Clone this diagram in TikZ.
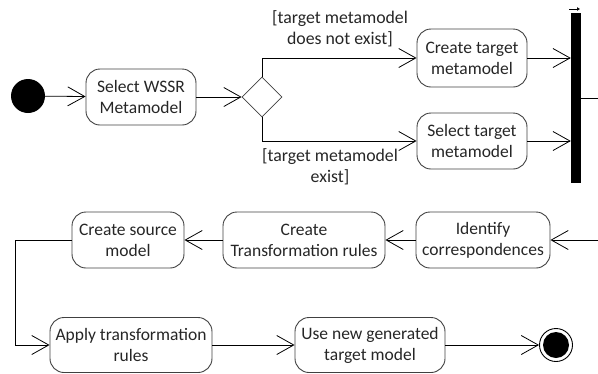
\documentclass[tikz,border=0pt]{standalone}
\usepackage{fontspec}
\setmainfont{Carlito}
\usetikzlibrary{arrows.meta,shapes.geometric}
\begin{document}
\begin{tikzpicture}[x=1pt,y=-1pt,
  act/.style={draw=black!75,line width=0.9pt,rounded corners=14pt,inner sep=0pt,align=center,
    text=black!85,font=\fontsize{17.5}{21}\selectfont},
  flow/.style={line width=0.8pt,-{Straight Barb[length=17pt,width=19pt,line width=0.8pt]}},
  lbl/.style={align=center,text=black!85,font=\fontsize{17.8}{21}\selectfont,inner sep=0pt},
]
\useasboundingbox (0,0) rectangle (598,373);
% nodes
\node[circle,fill=black,minimum size=34pt,inner sep=0pt] (start) at (28,96) {};
\node[act,minimum width=110pt,minimum height=56pt] (wssr) at (141,97) {Select WSSR\\Metamodel};
\node[draw=black!75,line width=0.8pt,diamond,minimum width=40pt,minimum height=40pt,inner sep=0pt] (dec) at (262,97) {};
\node[act,minimum width=110pt,minimum height=58pt] (ctm) at (472,58) {Create target\\metamodel};
\node[act,minimum width=110pt,minimum height=56pt] (stm) at (472,141) {Select target\\metamodel};
\node[fill=black,minimum width=10pt,minimum height=170pt,inner sep=0pt] (bar) at (576,98) {};
\node[act,minimum width=134pt,minimum height=56pt] (idc) at (483,240) {Identify\\correspondences};
\node[act,minimum width=162pt,minimum height=56pt] (ctr) at (304,240) {Create\\Transformation rules};
\node[act,minimum width=112pt,minimum height=56pt] (csm) at (128,240) {Create source\\model};
\node[act,minimum width=162pt,minimum height=55pt] (atr) at (131,345) {Apply transformation\\rules};
\node[act,minimum width=150pt,minimum height=55pt] (use) at (370,345) {Use new generated\\target model};
\node[circle,draw=black,line width=0.9pt,minimum size=33pt,inner sep=0pt] (end) at (556,345) {};
\node[circle,fill=black,minimum size=26pt,inner sep=0pt] at (end.center) {};
% labels
\node[lbl] (l1) at (340,29) {[target metamodel\\does not exist]};
\node[lbl] (l2) at (330,167) {[target metamodel\\exist]};
% coordinates
\coordinate (out) at (598,98);
\coordinate (in) at (598,240);
\coordinate (ta) at (569,9);
\coordinate (tb) at (580,9);
% connectors
\draw[flow] (start) -- (wssr);
\draw[flow] (wssr) -- (dec.west);
\draw[flow] (dec.north) |- (ctm.west);
\draw[flow] (dec.south) |- (stm.west);
\draw[flow] (ctm.east) -- (ctm.east -| bar.west);
\draw[flow] (stm.east) -- (stm.east -| bar.west);
\draw[line width=0.8pt] (bar.east |- out) -- (out);
\draw[flow] (in) -- (idc.east);
\draw[flow] (idc.west) -- (ctr.east);
\draw[flow] (ctr.west) -- (csm.east);
\draw[flow] (csm.west) -- ++(-56,0) |- (atr.west);
\draw[flow] (atr.east) -- (use.west);
\draw[flow] (use.east) -- (end.west);
\draw[line width=1pt,-{Latex[length=3pt,width=4pt]}] (ta) -- (tb);
\end{tikzpicture}
\end{document}
